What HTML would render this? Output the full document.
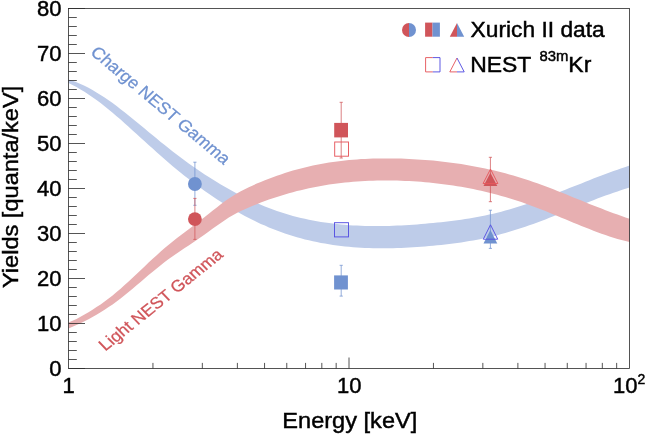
<!DOCTYPE html><html><head><meta charset="utf-8"><title>Yields vs Energy</title><style>html,body{margin:0;padding:0;background:#fff;overflow:hidden}svg{display:block}svg text{font-family:"Liberation Sans",Arial,Helvetica,sans-serif}</style></head><body><svg width="646" height="435" viewBox="0 0 646 435"><path d="M68.5,79.5 L72.5,80.8 L76.5,82.2 L80.5,83.9 L84.5,85.8 L88.5,87.8 L92.5,90.0 L96.5,92.4 L100.6,94.9 L104.6,97.5 L108.6,100.3 L112.6,103.1 L116.6,106.1 L120.6,109.2 L124.6,112.3 L128.6,115.5 L132.6,118.7 L136.6,122.0 L140.6,125.3 L144.6,128.6 L148.6,132.0 L152.7,135.3 L156.7,138.6 L160.7,141.9 L164.7,145.1 L168.7,148.3 L172.7,151.4 L176.7,154.5 L180.7,157.5 L184.7,160.5 L188.7,163.4 L192.7,166.2 L196.7,169.0 L200.7,171.8 L204.7,174.4 L208.8,177.0 L212.8,179.6 L216.8,182.0 L220.8,184.5 L224.8,186.8 L228.8,189.1 L232.8,191.3 L236.8,193.4 L240.8,195.5 L244.8,197.5 L248.8,199.5 L252.8,201.3 L256.8,203.1 L260.8,204.8 L264.9,206.5 L268.9,208.0 L272.9,209.5 L276.9,210.9 L280.9,212.3 L284.9,213.5 L288.9,214.7 L292.9,215.9 L296.9,216.9 L300.9,217.9 L304.9,218.8 L308.9,219.7 L312.9,220.5 L316.9,221.2 L320.9,221.9 L325.0,222.5 L329.0,223.1 L333.0,223.6 L337.0,224.1 L341.0,224.5 L345.0,224.8 L349.0,225.2 L353.0,225.4 L357.0,225.6 L361.0,225.8 L365.0,225.9 L369.0,226.0 L373.0,226.1 L377.1,226.1 L381.1,226.0 L385.1,226.0 L389.1,225.9 L393.1,225.7 L397.1,225.6 L401.1,225.4 L405.1,225.2 L409.1,224.9 L413.1,224.7 L417.1,224.4 L421.1,224.0 L425.1,223.7 L429.1,223.3 L433.1,223.0 L437.2,222.6 L441.2,222.2 L445.2,221.7 L449.2,221.2 L453.2,220.7 L457.2,220.2 L461.2,219.7 L465.2,219.1 L469.2,218.4 L473.2,217.7 L477.2,217.0 L481.2,216.3 L485.2,215.4 L489.2,214.6 L493.3,213.7 L497.3,212.7 L501.3,211.7 L505.3,210.6 L509.3,209.5 L513.3,208.3 L517.3,207.1 L521.3,205.8 L525.3,204.5 L529.3,203.2 L533.3,201.8 L537.3,200.4 L541.3,199.0 L545.4,197.5 L549.4,196.0 L553.4,194.4 L557.4,192.9 L561.4,191.3 L565.4,189.7 L569.4,188.1 L573.4,186.5 L577.4,184.9 L581.4,183.4 L585.4,181.8 L589.4,180.2 L593.4,178.6 L597.4,177.1 L601.5,175.5 L605.5,174.0 L609.5,172.5 L613.5,171.1 L617.5,169.7 L621.5,168.3 L625.5,166.9 L629.5,165.6 L629.5,187.6 L625.5,188.8 L621.5,190.1 L617.5,191.4 L613.5,192.8 L609.5,194.2 L605.5,195.6 L601.5,197.1 L597.4,198.6 L593.4,200.2 L589.4,201.7 L585.4,203.3 L581.4,204.9 L577.4,206.5 L573.4,208.2 L569.4,209.8 L565.4,211.4 L561.4,213.0 L557.4,214.6 L553.4,216.2 L549.4,217.8 L545.4,219.4 L541.3,220.9 L537.3,222.4 L533.3,223.9 L529.3,225.3 L525.3,226.7 L521.3,228.0 L517.3,229.3 L513.3,230.6 L509.3,231.8 L505.3,233.0 L501.3,234.1 L497.3,235.2 L493.3,236.2 L489.2,237.1 L485.2,238.0 L481.2,238.9 L477.2,239.7 L473.2,240.4 L469.2,241.1 L465.2,241.8 L461.2,242.4 L457.2,243.0 L453.2,243.5 L449.2,244.0 L445.2,244.5 L441.2,244.9 L437.2,245.3 L433.1,245.7 L429.1,246.1 L425.1,246.4 L421.1,246.7 L417.1,247.0 L413.1,247.3 L409.1,247.5 L405.1,247.7 L401.1,247.9 L397.1,248.1 L393.1,248.2 L389.1,248.3 L385.1,248.3 L381.1,248.3 L377.1,248.3 L373.0,248.2 L369.0,248.1 L365.0,247.9 L361.0,247.7 L357.0,247.5 L353.0,247.2 L349.0,246.8 L345.0,246.4 L341.0,246.0 L337.0,245.5 L333.0,244.9 L329.0,244.3 L325.0,243.6 L320.9,242.9 L316.9,242.1 L312.9,241.2 L308.9,240.3 L304.9,239.4 L300.9,238.3 L296.9,237.2 L292.9,236.0 L288.9,234.7 L284.9,233.4 L280.9,232.0 L276.9,230.5 L272.9,229.0 L268.9,227.4 L264.9,225.6 L260.8,223.9 L256.8,222.0 L252.8,220.0 L248.8,218.0 L244.8,215.9 L240.8,213.8 L236.8,211.5 L232.8,209.2 L228.8,206.8 L224.8,204.4 L220.8,201.8 L216.8,199.2 L212.8,196.6 L208.8,193.8 L204.7,191.0 L200.7,188.1 L196.7,185.2 L192.7,182.2 L188.7,179.1 L184.7,176.0 L180.7,172.8 L176.7,169.5 L172.7,166.2 L168.7,162.8 L164.7,159.3 L160.7,155.8 L156.7,152.2 L152.7,148.6 L148.6,145.0 L144.6,141.3 L140.6,137.7 L136.6,134.0 L132.6,130.4 L128.6,126.8 L124.6,123.2 L120.6,119.6 L116.6,116.2 L112.6,112.8 L108.6,109.5 L104.6,106.2 L100.6,103.1 L96.5,100.1 L92.5,97.2 L88.5,94.5 L84.5,91.8 L80.5,89.4 L76.5,87.1 L72.5,85.0 L68.5,83.1Z" fill="#BECCE9"/>
<path d="M68.5,322.6 L72.5,320.8 L76.5,318.9 L80.5,316.8 L84.5,314.6 L88.5,312.2 L92.5,309.7 L96.5,307.1 L100.6,304.4 L104.6,301.5 L108.6,298.5 L112.6,295.4 L116.6,292.1 L120.6,288.7 L124.6,285.1 L128.6,281.5 L132.6,277.8 L136.6,274.0 L140.6,270.2 L144.6,266.4 L148.6,262.6 L152.7,258.8 L156.7,255.2 L160.7,251.5 L164.7,248.0 L168.7,244.7 L172.7,241.4 L176.7,238.3 L180.7,235.2 L184.7,232.2 L188.7,229.2 L192.7,226.2 L196.7,223.2 L200.7,220.1 L204.7,216.9 L208.8,213.7 L212.8,210.5 L216.8,207.4 L220.8,204.3 L224.8,201.3 L228.8,198.5 L232.8,195.9 L236.8,193.5 L240.8,191.3 L244.8,189.3 L248.8,187.3 L252.8,185.4 L256.8,183.6 L260.8,181.9 L264.9,180.3 L268.9,178.7 L272.9,177.2 L276.9,175.7 L280.9,174.4 L284.9,173.0 L288.9,171.8 L292.9,170.6 L296.9,169.5 L300.9,168.4 L304.9,167.4 L308.9,166.5 L312.9,165.6 L316.9,164.8 L320.9,164.0 L325.0,163.3 L329.0,162.6 L333.0,162.0 L337.0,161.5 L341.0,161.0 L345.0,160.5 L349.0,160.1 L353.0,159.7 L357.0,159.4 L361.0,159.1 L365.0,158.9 L369.0,158.7 L373.0,158.6 L377.1,158.5 L381.1,158.4 L385.1,158.4 L389.1,158.4 L393.1,158.4 L397.1,158.5 L401.1,158.6 L405.1,158.8 L409.1,158.9 L413.1,159.2 L417.1,159.4 L421.1,159.7 L425.1,160.0 L429.1,160.3 L433.1,160.6 L437.2,161.0 L441.2,161.5 L445.2,161.9 L449.2,162.4 L453.2,163.0 L457.2,163.5 L461.2,164.1 L465.2,164.8 L469.2,165.5 L473.2,166.2 L477.2,166.9 L481.2,167.7 L485.2,168.6 L489.2,169.4 L493.3,170.3 L497.3,171.3 L501.3,172.3 L505.3,173.3 L509.3,174.4 L513.3,175.5 L517.3,176.7 L521.3,177.9 L525.3,179.2 L529.3,180.5 L533.3,181.9 L537.3,183.3 L541.3,184.8 L545.4,186.3 L549.4,187.8 L553.4,189.3 L557.4,190.9 L561.4,192.5 L565.4,194.1 L569.4,195.7 L573.4,197.4 L577.4,199.0 L581.4,200.6 L585.4,202.3 L589.4,203.9 L593.4,205.5 L597.4,207.1 L601.5,208.6 L605.5,210.2 L609.5,211.7 L613.5,213.2 L617.5,214.6 L621.5,216.0 L625.5,217.4 L629.5,218.7 L629.5,242.1 L625.5,241.1 L621.5,240.0 L617.5,238.9 L613.5,237.7 L609.5,236.4 L605.5,235.1 L601.5,233.7 L597.4,232.2 L593.4,230.7 L589.4,229.1 L585.4,227.6 L581.4,226.0 L577.4,224.3 L573.4,222.7 L569.4,221.0 L565.4,219.3 L561.4,217.7 L557.4,216.0 L553.4,214.4 L549.4,212.7 L545.4,211.1 L541.3,209.5 L537.3,208.0 L533.3,206.4 L529.3,205.0 L525.3,203.5 L521.3,202.1 L517.3,200.8 L513.3,199.5 L509.3,198.3 L505.3,197.1 L501.3,195.9 L497.3,194.8 L493.3,193.7 L489.2,192.7 L485.2,191.8 L481.2,190.8 L477.2,189.9 L473.2,189.1 L469.2,188.3 L465.2,187.5 L461.2,186.8 L457.2,186.2 L453.2,185.5 L449.2,184.9 L445.2,184.4 L441.2,183.9 L437.2,183.4 L433.1,182.9 L429.1,182.5 L425.1,182.2 L421.1,181.8 L417.1,181.6 L413.1,181.3 L409.1,181.1 L405.1,180.9 L401.1,180.7 L397.1,180.6 L393.1,180.5 L389.1,180.5 L385.1,180.5 L381.1,180.5 L377.1,180.6 L373.0,180.7 L369.0,180.8 L365.0,181.0 L361.0,181.2 L357.0,181.5 L353.0,181.8 L349.0,182.2 L345.0,182.6 L341.0,183.0 L337.0,183.5 L333.0,184.1 L329.0,184.6 L325.0,185.3 L320.9,186.0 L316.9,186.7 L312.9,187.5 L308.9,188.3 L304.9,189.2 L300.9,190.2 L296.9,191.1 L292.9,192.2 L288.9,193.3 L284.9,194.5 L280.9,195.7 L276.9,196.9 L272.9,198.3 L268.9,199.6 L264.9,201.1 L260.8,202.6 L256.8,204.2 L252.8,205.8 L248.8,207.5 L244.8,209.2 L240.8,211.1 L236.8,213.1 L232.8,215.3 L228.8,217.6 L224.8,220.2 L220.8,222.9 L216.8,225.7 L212.8,228.6 L208.8,231.5 L204.7,234.4 L200.7,237.3 L196.7,240.1 L192.7,242.8 L188.7,245.4 L184.7,248.1 L180.7,250.7 L176.7,253.5 L172.7,256.2 L168.7,259.1 L164.7,262.1 L160.7,265.2 L156.7,268.4 L152.7,271.8 L148.6,275.1 L144.6,278.5 L140.6,281.9 L136.6,285.3 L132.6,288.7 L128.6,292.0 L124.6,295.3 L120.6,298.4 L116.6,301.5 L112.6,304.4 L108.6,307.1 L104.6,309.8 L100.6,312.3 L96.5,314.7 L92.5,317.0 L88.5,319.2 L84.5,321.3 L80.5,323.2 L76.5,325.1 L72.5,326.8 L68.5,328.4Z" fill="#E7AFB1"/>
<rect x="68.5" y="8.5" width="561.0" height="360.0" fill="none" stroke="#2a2a2a" stroke-width="0.8"/>
<path d="M68.5,368.50h16.5 M68.5,359.50h8.3 M68.5,350.50h8.3 M68.5,341.50h8.3 M68.5,332.50h8.3 M68.5,323.50h16.5 M68.5,314.50h8.3 M68.5,305.50h8.3 M68.5,296.50h8.3 M68.5,287.50h8.3 M68.5,278.50h16.5 M68.5,269.50h8.3 M68.5,260.50h8.3 M68.5,251.50h8.3 M68.5,242.50h8.3 M68.5,233.50h16.5 M68.5,224.50h8.3 M68.5,215.50h8.3 M68.5,206.50h8.3 M68.5,197.50h8.3 M68.5,188.50h16.5 M68.5,179.50h8.3 M68.5,170.50h8.3 M68.5,161.50h8.3 M68.5,152.50h8.3 M68.5,143.50h16.5 M68.5,134.50h8.3 M68.5,125.50h8.3 M68.5,116.50h8.3 M68.5,107.50h8.3 M68.5,98.50h16.5 M68.5,89.50h8.3 M68.5,80.50h8.3 M68.5,71.50h8.3 M68.5,62.50h8.3 M68.5,53.50h16.5 M68.5,44.50h8.3 M68.5,35.50h8.3 M68.5,26.50h8.3 M68.5,17.50h8.3 M68.5,8.50h16.5 M152.94,368.5v-5.6 M202.33,368.5v-5.6 M237.38,368.5v-5.6 M264.56,368.5v-5.6 M286.77,368.5v-5.6 M305.55,368.5v-5.6 M321.82,368.5v-5.6 M336.17,368.5v-5.6 M349.00,368.5v-11 M433.44,368.5v-5.6 M482.83,368.5v-5.6 M517.88,368.5v-5.6 M545.06,368.5v-5.6 M567.27,368.5v-5.6 M586.05,368.5v-5.6 M602.32,368.5v-5.6 M616.67,368.5v-5.6" stroke="#2a2a2a" stroke-width="0.8" fill="none"/>
<path d="M194.9,162.2V205.3M193.3,162.2h3.2M193.3,205.3h3.2" stroke="#7092D0" stroke-width="1" fill="none" opacity="0.75"/>
<path d="M194.9,198.4V239.4M193.3,198.4h3.2M193.3,239.4h3.2" stroke="#D0555A" stroke-width="1" fill="none" opacity="0.75"/>
<circle cx="194.9" cy="184" r="6.9" fill="#7092D0"/>
<circle cx="194.9" cy="219.1" r="6.9" fill="#D0555A"/>
<path d="M341.2,102.3V158M339.59999999999997,102.3h3.2M339.59999999999997,158h3.2" stroke="#D0555A" stroke-width="1" fill="none" opacity="0.75"/>
<rect x="334.2" y="122.9" width="13.8" height="14.5" fill="#D0555A"/>
<rect x="334.7" y="142" width="13.8" height="14.2" fill="none" stroke="#E6585E" stroke-width="0.95"/>
<path d="M341.2,265.3V296.1M339.59999999999997,265.3h3.2M339.59999999999997,296.1h3.2" stroke="#7092D0" stroke-width="1" fill="none" opacity="0.75"/>
<rect x="334.1" y="275.4" width="13.8" height="14.1" fill="#7092D0"/>
<rect x="334.5" y="222.7" width="14" height="14.2" fill="none" stroke="#5550E2" stroke-width="0.95"/>
<path d="M490.4,157.3V201.7M488.79999999999995,157.3h3.2M488.79999999999995,201.7h3.2" stroke="#D0555A" stroke-width="1" fill="none" opacity="0.75"/>
<path d="M483.5,186.0L497.29999999999995,186.0L490.4,172.8Z" fill="#D0555A"/>
<path d="M483.1,183.5L497.9,183.5L490.5,169.10000000000002Z" fill="none" stroke="#E6585E" stroke-width="0.95"/>
<path d="M490.4,210.2V248.4M488.79999999999995,210.2h3.2M488.79999999999995,248.4h3.2" stroke="#7092D0" stroke-width="1" fill="none" opacity="0.75"/>
<path d="M483.5,243.5L497.29999999999995,243.5L490.4,230.10000000000002Z" fill="#7092D0"/>
<path d="M483.3,239.2L497.7,239.2L490.5,224.8Z" fill="none" stroke="#5550E2" stroke-width="0.95"/>
<path d="M409,23A7,7 0 0 0 409,37Z" fill="#D0555A"/><path d="M409,23A7,7 0 0 1 409,37Z" fill="#7092D0"/>
<rect x="425.1" y="22.6" width="7.4" height="14.1" fill="#D0555A"/><rect x="432.5" y="22.6" width="7.4" height="14.1" fill="#7092D0"/>
<path d="M449.8,36.7H457V23.1Z" fill="#D0555A"/><path d="M464.2,36.7H457V23.1Z" fill="#7092D0"/>
<path d="M432.8,57.6H425.6V71.9H432.8" fill="none" stroke="#E6585E" stroke-width="0.95"/><path d="M432.8,57.6H440V71.9H432.8" fill="none" stroke="#5550E2" stroke-width="0.95"/>
<path d="M457,58L449.8,71.9H457" fill="none" stroke="#E6585E" stroke-width="0.95"/><path d="M457,58L464.2,71.9H457" fill="none" stroke="#5550E2" stroke-width="0.95"/>
<text transform="translate(61.5,375.9) scale(1.0,1) rotate(0)" font-size="22" text-anchor="end" fill="#000" stroke="#000" stroke-width="0.45">0</text>
<text transform="translate(61.5,330.9) scale(1.0,1) rotate(0)" font-size="22" text-anchor="end" fill="#000" stroke="#000" stroke-width="0.45">10</text>
<text transform="translate(61.5,285.9) scale(1.0,1) rotate(0)" font-size="22" text-anchor="end" fill="#000" stroke="#000" stroke-width="0.45">20</text>
<text transform="translate(61.5,240.9) scale(1.0,1) rotate(0)" font-size="22" text-anchor="end" fill="#000" stroke="#000" stroke-width="0.45">30</text>
<text transform="translate(61.5,195.9) scale(1.0,1) rotate(0)" font-size="22" text-anchor="end" fill="#000" stroke="#000" stroke-width="0.45">40</text>
<text transform="translate(61.5,150.9) scale(1.0,1) rotate(0)" font-size="22" text-anchor="end" fill="#000" stroke="#000" stroke-width="0.45">50</text>
<text transform="translate(61.5,105.9) scale(1.0,1) rotate(0)" font-size="22" text-anchor="end" fill="#000" stroke="#000" stroke-width="0.45">60</text>
<text transform="translate(61.5,60.9) scale(1.0,1) rotate(0)" font-size="22" text-anchor="end" fill="#000" stroke="#000" stroke-width="0.45">70</text>
<text transform="translate(61.5,15.9) scale(1.0,1) rotate(0)" font-size="22" text-anchor="end" fill="#000" stroke="#000" stroke-width="0.45">80</text>
<text transform="translate(68.5,393.4) scale(1.0,1) rotate(0)" font-size="22" text-anchor="middle" fill="#000" stroke="#000" stroke-width="0.45">1</text>
<text transform="translate(349.3,393.4) scale(1.0,1) rotate(0)" font-size="22" text-anchor="middle" fill="#000" stroke="#000" stroke-width="0.45">10</text>
<text transform="translate(637.6,393.4) scale(1.0,1) rotate(0)" font-size="22" text-anchor="end" fill="#000" stroke="#000" stroke-width="0.45">10</text>
<text transform="translate(637.4,383.6) scale(1.0,1) rotate(0)" font-size="14" text-anchor="start" fill="#000" stroke="#000" stroke-width="0.45">2</text>
<text transform="translate(349.8,427.5) scale(1.035,1) rotate(0)" font-size="22.8" text-anchor="middle" fill="#000" stroke="#000" stroke-width="0.45">Energy [keV]</text>
<text transform="translate(17.5,186.9) rotate(-90) scale(1.035,1)" font-size="22.8" text-anchor="middle" stroke="#000" stroke-width="0.45">Yields [quanta/keV]</text>
<text transform="translate(470.6,37.1) scale(1.012,1) rotate(0)" font-size="22.5" text-anchor="start" fill="#000" stroke="#000" stroke-width="0.45">Xurich II data</text>
<text transform="translate(470.2,71.6) scale(1.02,1) rotate(0)" font-size="22.5" text-anchor="start" fill="#000" stroke="#000" stroke-width="0.45">NEST <tspan font-size="14.6" dx="2" dy="-10.2">83m</tspan><tspan dy="10.2">Kr</tspan></text>
<text transform="translate(89.5,53.5) scale(1.1,1) rotate(42.5)" font-size="16.48" text-anchor="start" fill="#7092D0" stroke="#7092D0" stroke-width="0.25">Charge NEST Gamma</text>
<text transform="translate(105.3,351.6) scale(1.1,1) rotate(-41.49)" font-size="16.17" text-anchor="start" fill="#D0555A" stroke="#D0555A" stroke-width="0.25">Light NEST Gamma</text></svg></body></html>
